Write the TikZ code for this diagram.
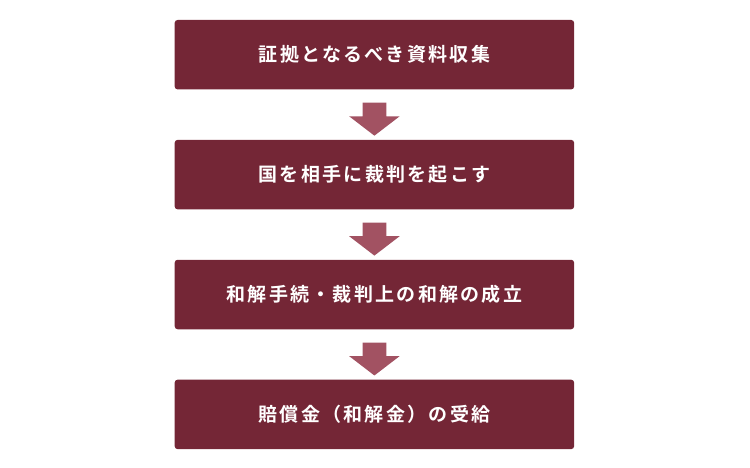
\documentclass[tikz,border=0pt]{standalone}
\usepackage{fontspec}
\setmainfont{Noto Sans CJK JP}[LetterSpace=12, BoldFont={Noto Sans CJK JP Bold}]
\usetikzlibrary{positioning,calc,shapes.arrows}
\definecolor{stepred}{RGB}{116,38,54}
\definecolor{arrowred}{RGB}{162,82,98}

\begin{document}
\begin{tikzpicture}[x=1pt,y=1pt]
    \tikzstyle{every node}=[font=\fontsize{19pt}{23pt}\selectfont\bfseries]
    \tikzstyle{stepbox}=[fill=stepred, rounded corners=3pt, text=white, minimum width=399.5pt, minimum height=69.5pt, inner sep=0pt]
    \tikzstyle{downarrow}=[single arrow, fill=arrowred, shape border rotate=270, minimum height=32.5pt, minimum width=50pt, single arrow head extend=13.3pt, single arrow tip angle=105, inner sep=11.7pt]
    \useasboundingbox (0,0) rectangle (750,-468);

    \node[stepbox] (evidence) at (374.4,-54.7) {証拠となるべき資料収集};
    \node[stepbox, below=50pt of evidence] (lawsuit) {国を相手に裁判を起こす};
    \node[stepbox, below=50pt of lawsuit] (settlement) {和解手続・裁判上の和解の成立};
    \node[stepbox, below=50pt of settlement] (payment) {賠償金（和解金）の受給};

    \node[downarrow] (arrow1) at ($(evidence.south)!0.5!(lawsuit.north)$) {};
    \node[downarrow] (arrow2) at ($(lawsuit.south)!0.5!(settlement.north)$) {};
    \node[downarrow] (arrow3) at ($(settlement.south)!0.5!(payment.north)$) {};
\end{tikzpicture}
\end{document}
